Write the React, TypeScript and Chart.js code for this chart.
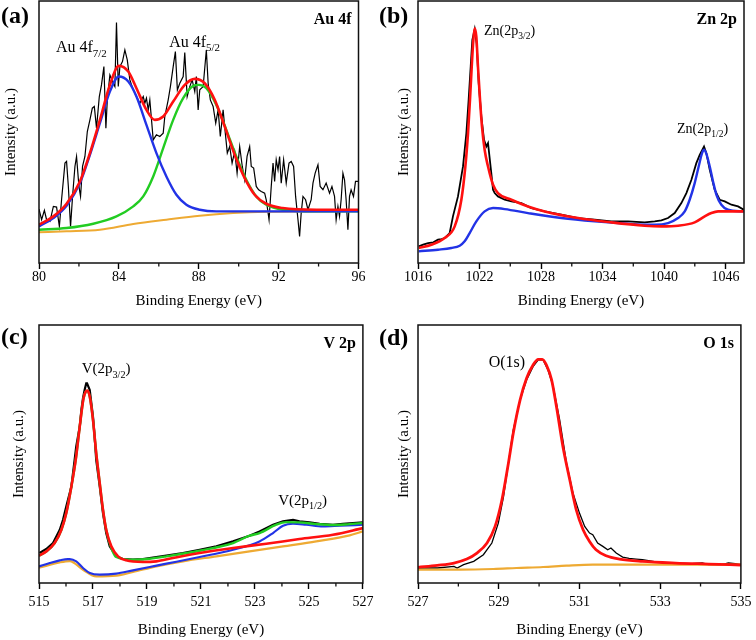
import { useEffect, useRef } from "react";
import { Chart, registerables } from "chart.js";
Chart.register(...registerables);

type P = [number, number];
const FAMILY = "'Liberation Serif', 'Times New Roman', serif";

// ---------- Panel (a) Au 4f ----------
const auTicks = [80, 84, 88, 92, 96];
const auMinor = [82, 86, 90, 94];
const auRaw: P[] = [
  [80.0, 162], [80.13, 130], [80.27, 158], [80.38, 130], [80.55, 125], [80.72, 170], [80.88, 168], [81.02, 110],
  [81.13, 190], [81.3, 300], [81.38, 305], [81.47, 230], [81.58, 110], [81.68, 200], [81.8, 290], [81.88, 320],
  [82.0, 230], [82.08, 200], [82.18, 290], [82.3, 320], [82.42, 395], [82.55, 430], [82.67, 465], [82.77, 470],
  [82.88, 405], [83.02, 500], [83.13, 535], [83.25, 590], [83.35, 405], [83.42, 490], [83.55, 565], [83.72, 540],
  [83.8, 530], [83.88, 722], [83.97, 530], [84.05, 590], [84.18, 605], [84.3, 640], [84.42, 610], [84.55, 550],
  [84.72, 520], [84.88, 500], [85.05, 480], [85.22, 500], [85.3, 480], [85.38, 495], [85.47, 460], [85.55, 490],
  [85.72, 370], [85.88, 385], [86.05, 380], [86.22, 390], [86.3, 440], [86.47, 490], [86.58, 530], [86.72, 590],
  [86.83, 635], [86.93, 520], [87.05, 540], [87.22, 560], [87.3, 632], [87.42, 500], [87.55, 530], [87.67, 550],
  [87.8, 515], [87.88, 560], [87.97, 460], [88.05, 520], [88.22, 530], [88.38, 640], [88.47, 540], [88.58, 490],
  [88.72, 470], [88.85, 420], [88.97, 460], [89.08, 380], [89.22, 460], [89.33, 390], [89.43, 330], [89.55, 350],
  [89.67, 300], [89.8, 335], [89.92, 270], [90.05, 350], [90.18, 290], [90.3, 250], [90.42, 320], [90.55, 350],
  [90.63, 290], [90.75, 285], [90.88, 230], [91.0, 220], [91.13, 215], [91.3, 210], [91.38, 190], [91.52, 130],
  [91.63, 230], [91.72, 300], [91.8, 245], [91.88, 310], [91.97, 280], [92.05, 320], [92.13, 240], [92.25, 310],
  [92.38, 240], [92.52, 300], [92.63, 305], [92.75, 290], [92.85, 200], [92.97, 130], [93.05, 80], [93.13, 150],
  [93.22, 200], [93.35, 190], [93.47, 160], [93.63, 190], [93.72, 240], [93.83, 270], [93.97, 295], [94.08, 230],
  [94.22, 220], [94.38, 240], [94.55, 210], [94.67, 230], [94.8, 200], [94.88, 130], [94.97, 170], [95.05, 140],
  [95.13, 190], [95.22, 270], [95.3, 250], [95.38, 190], [95.47, 100], [95.55, 200], [95.63, 220], [95.75, 200],
  [95.85, 245], [96.0, 245],
];
const auFit: P[] = [
  [80.0, 115], [80.72, 140], [81.38, 178], [82.05, 245], [82.55, 330], [83.05, 430], [83.55, 535], [84.0, 592],
  [84.47, 575], [84.88, 525], [85.38, 460], [85.8, 430], [86.22, 440], [86.72, 485], [87.3, 535], [87.8, 553],
  [88.3, 540], [88.8, 490], [89.3, 410], [89.8, 325], [90.3, 255], [90.8, 205], [91.38, 178], [92.2, 165],
  [93.9, 160], [96.0, 160],
];
const au72: P[] = [
  [80.0, 110], [80.72, 135], [81.38, 172], [82.05, 240], [82.55, 325], [83.05, 420], [83.55, 515], [84.0, 560],
  [84.47, 545], [84.88, 500], [85.38, 415], [85.88, 330], [86.38, 260], [86.88, 205], [87.38, 175], [88.05, 160],
  [88.88, 155], [91.38, 155], [96.0, 155],
];
const au52: P[] = [
  [80.0, 100], [81.38, 105], [82.72, 118], [83.88, 140], [84.72, 170], [85.22, 200], [85.72, 260], [86.22, 345],
  [86.72, 430], [87.22, 495], [87.72, 532], [88.0, 535], [88.38, 525], [88.88, 475], [89.38, 400], [89.88, 320],
  [90.38, 250], [90.88, 200], [91.38, 175], [92.22, 160], [93.88, 155], [96.0, 155],
];
const auBg: P[] = [
  [80.0, 92], [81.38, 95], [83.05, 100], [84.72, 117], [86.38, 130], [88.05, 142], [89.72, 150], [91.38, 154], [96.0, 156],
];

// ---------- Panel (b) Zn 2p ----------
const znTicks = [1016, 1022, 1028, 1034, 1040, 1046];
const znMinor = [1019, 1025, 1031, 1037, 1043];
const znRaw: P[] = [
  [1016.07, 50], [1016.5, 55], [1016.98, 60], [1017.5, 62], [1017.95, 70], [1018.3, 72], [1018.6, 75], [1019.09, 90],
  [1019.41, 140], [1019.9, 200], [1020.39, 290], [1020.72, 390], [1020.94, 490], [1021.14, 590], [1021.3, 670],
  [1021.53, 702], [1021.72, 660], [1021.92, 540], [1022.18, 440], [1022.44, 370], [1022.67, 350], [1022.83, 360],
  [1023.15, 270], [1023.32, 220], [1023.48, 210], [1023.8, 200], [1024.46, 190], [1025.11, 185], [1026.08, 180],
  [1027.06, 165], [1028.36, 155], [1029.98, 145], [1031.61, 135], [1033.24, 130], [1034.86, 125], [1036.49, 125],
  [1038.11, 122], [1039.09, 125], [1039.74, 128], [1040.39, 135], [1041.04, 150], [1041.69, 180], [1042.18, 210],
  [1042.67, 250], [1043.15, 300], [1043.48, 325], [1043.9, 350], [1044.13, 330], [1044.46, 280], [1044.94, 220],
  [1045.43, 190], [1045.92, 185], [1046.57, 175], [1047.22, 170], [1047.77, 160],
];
const zn32: P[] = [
  [1016.07, 45], [1017.3, 55], [1018.6, 75], [1019.58, 110], [1020.23, 190], [1020.62, 290], [1020.88, 390],
  [1021.07, 490], [1021.24, 590], [1021.4, 670], [1021.53, 705], [1021.69, 680], [1021.85, 590], [1022.05, 490],
  [1022.24, 410], [1022.5, 340], [1022.83, 290], [1023.32, 235], [1023.8, 210], [1025.11, 190], [1026.73, 170],
  [1028.36, 155], [1031.61, 135], [1034.86, 122], [1038.11, 112], [1039.74, 110], [1041.37, 112], [1042.99, 122],
  [1043.97, 140], [1044.62, 150], [1045.27, 155], [1046.24, 155], [1047.77, 155],
];
const zn12: P[] = [
  [1016.07, 35], [1017.95, 40], [1019.25, 45], [1020.07, 52], [1020.55, 65], [1021.04, 90], [1021.69, 125],
  [1022.5, 155], [1023.32, 165], [1024.46, 162], [1026.73, 150], [1029.98, 135], [1033.24, 125], [1036.49, 118],
  [1039.09, 115], [1040.39, 120], [1041.37, 135], [1042.02, 155], [1042.5, 190], [1042.99, 240], [1043.38, 290],
  [1043.71, 330], [1043.9, 340], [1044.13, 328], [1044.46, 290], [1044.78, 245], [1045.11, 205], [1045.59, 175],
  [1046.24, 160], [1047.77, 155],
];

// ---------- Panel (c) V 2p ----------
const vTicks = [515, 517, 519, 521, 523, 525, 527];
const vMinor = [516, 518, 520, 522, 524, 526];
const vRaw: P[] = [
  [515.02, 90], [515.27, 102], [515.52, 120], [515.77, 160], [515.89, 190], [516.01, 230], [516.2, 290],
  [516.32, 370], [516.38, 410], [516.51, 470], [516.57, 520], [516.63, 555], [516.69, 580], [516.75, 600],
  [516.78, 600], [516.88, 580], [517.0, 500], [517.06, 440], [517.12, 370], [517.25, 290], [517.37, 210],
  [517.49, 150], [517.62, 110], [517.86, 80], [518.11, 72], [518.48, 70], [518.85, 72], [519.22, 76],
  [519.72, 82], [520.33, 90], [520.95, 100], [521.57, 110], [522.19, 125], [522.8, 142], [523.17, 155],
  [523.67, 175], [524.04, 185], [524.41, 190], [524.65, 185], [525.02, 182], [525.4, 178], [525.89, 175],
  [526.26, 178], [526.63, 180], [527.0, 182],
];
const vFit: P[] = [
  [515.0, 82], [515.27, 95], [515.58, 120], [515.83, 160], [516.01, 210], [516.2, 290], [516.36, 370],
  [516.48, 450], [516.57, 510], [516.65, 555], [516.73, 575], [516.79, 578], [516.88, 560], [517.0, 490],
  [517.12, 390], [517.25, 300], [517.37, 220], [517.49, 160], [517.68, 110], [517.93, 80], [518.23, 68],
  [518.85, 63], [519.35, 65], [519.96, 75], [520.95, 90], [522.19, 105], [523.42, 118], [524.65, 132],
  [525.89, 145], [527.0, 165],
];
const vEnv: P[] = [
  [515.0, 82], [515.27, 95], [515.58, 120], [515.83, 160], [516.01, 210], [516.2, 290], [516.36, 370],
  [516.48, 450], [516.57, 510], [516.65, 555], [516.73, 575], [516.79, 578], [516.88, 560], [517.0, 490],
  [517.12, 390], [517.25, 300], [517.37, 220], [517.49, 160], [517.68, 105], [517.86, 78], [518.48, 70],
  [519.1, 73], [519.72, 80], [520.95, 97], [522.19, 120], [522.8, 142], [523.17, 150], [523.79, 175],
  [524.16, 183], [524.65, 182], [525.27, 177], [525.89, 174], [526.51, 177], [527.0, 180],
];
const v12: P[] = [
  [515.0, 50], [515.4, 60], [515.77, 68], [516.07, 72], [516.14, 72], [516.38, 65], [516.63, 45], [516.88, 30],
  [517.25, 25], [517.86, 28], [518.48, 38], [519.1, 48], [519.72, 58], [520.95, 78], [522.19, 100], [523.17, 125],
  [523.67, 150], [524.04, 172], [524.41, 178], [524.9, 175], [525.52, 170], [526.14, 172], [527.0, 175],
];
const vBg: P[] = [
  [515.0, 46], [515.77, 62], [516.14, 66], [516.63, 40], [517.12, 20], [517.86, 22], [518.48, 33], [519.35, 50],
  [520.33, 65], [521.57, 80], [522.8, 95], [524.04, 110], [525.27, 125], [526.51, 143], [527.0, 155],
];

// ---------- Panel (d) O 1s ----------
const oTicks = [527, 529, 531, 533, 535];
const oMinor = [528, 530, 532, 534];
const oRaw: P[] = [
  [527.0, 45], [527.48, 45], [527.89, 50], [527.97, 45], [528.13, 55], [528.38, 65], [528.62, 85], [528.83, 120],
  [528.99, 180], [529.12, 260], [529.24, 360], [529.36, 460], [529.53, 550], [529.69, 610], [529.85, 650],
  [529.98, 670], [530.1, 670], [530.22, 640], [530.35, 590], [530.51, 490], [530.68, 360], [530.84, 270],
  [531.0, 210], [531.13, 170], [531.25, 150], [531.33, 145], [531.45, 120], [531.58, 110], [531.7, 100],
  [531.78, 105], [531.91, 90], [532.07, 78], [532.23, 74], [532.4, 72], [532.56, 70], [532.97, 62], [533.38, 60],
  [533.79, 58], [534.04, 60], [534.2, 55], [534.53, 55], [534.69, 60], [534.86, 58], [535.0, 55],
];
const oFit: P[] = [
  [527.0, 47], [527.48, 53], [527.89, 60], [528.21, 72], [528.46, 90], [528.71, 120], [528.91, 170], [529.08, 250],
  [529.24, 360], [529.36, 450], [529.53, 550], [529.69, 615], [529.85, 655], [529.98, 672], [530.08, 672],
  [530.18, 655], [530.31, 610], [530.43, 530], [530.59, 410], [530.76, 310], [530.92, 220], [531.09, 160],
  [531.25, 125], [531.41, 100], [531.66, 82], [531.99, 72], [532.56, 65], [533.38, 60], [534.2, 57], [535.0, 54],
];
const oBg: P[] = [
  [527.0, 40], [528.05, 40], [528.87, 42], [529.44, 45], [530.1, 48], [530.68, 52], [531.33, 55], [532.15, 55],
  [533.38, 55], [535.0, 55],
];

const RED = "#ff1010";
const BLUE = "#2233e6";
const GREEN = "#22cc22";
const ORANGE = "#eeaa33";
const BLACK = "#000000";

type Series = { pts: P[]; color: string; width: number; smooth: boolean };
type Part = { t: string; sub?: boolean };
type Note = { x: number; y: number; parts: Part[]; size: number };
type PanelCfg = {
  left: number; top: number;
  area: { left: number; right: number; top: number; bottom: number };
  xmin: number; xmax: number; ymax: number;
  ticks: number[]; minor: number[];
  series: Series[];
  tag: string; element: string; tagY: number;
  notes: Note[];
  tickPad: number; xTitlePad: number; yTitlePad: number;
};

const W = 378, H = 320;

const panels: PanelCfg[] = [
  {
    left: 0, top: 0, area: { left: 39, right: 358.5, top: 1, bottom: 263 },
    xmin: 80, xmax: 96, ymax: 787, ticks: auTicks, minor: auMinor,
    series: [
      { pts: auFit, color: RED, width: 2.6, smooth: true },
      { pts: au72, color: BLUE, width: 2.4, smooth: true },
      { pts: au52, color: GREEN, width: 2.4, smooth: true },
      { pts: auBg, color: ORANGE, width: 2, smooth: true },
      { pts: auRaw, color: BLACK, width: 1.2, smooth: false },
    ],
    tag: "(a)", element: "Au 4f", tagY: 17,
    notes: [
      { x: 80.85, y: 634, parts: [{ t: "Au 4f" }, { t: "7/2", sub: true }], size: 16 },
      { x: 86.52, y: 650, parts: [{ t: "Au 4f" }, { t: "5/2", sub: true }], size: 16 },
    ],
    tickPad: 0, xTitlePad: 10, yTitlePad: 2,
  },
  {
    left: 378, top: 0, area: { left: 40, right: 366, top: 1, bottom: 263 },
    xmin: 1016, xmax: 1047.8, ymax: 787, ticks: znTicks, minor: znMinor,
    series: [
      { pts: zn32, color: RED, width: 2.6, smooth: true },
      { pts: zn12, color: BLUE, width: 2.4, smooth: true },
      { pts: znRaw, color: BLACK, width: 1.8, smooth: false },
    ],
    tag: "(b)", element: "Zn 2p", tagY: 17,
    notes: [
      { x: 1022.44, y: 685, parts: [{ t: "Zn(2p" }, { t: "3/2", sub: true }, { t: ")" }], size: 14 },
      { x: 1041.27, y: 390, parts: [{ t: "Zn(2p" }, { t: "1/2", sub: true }, { t: ")" }], size: 14 },
    ],
    tickPad: 0, xTitlePad: 10, yTitlePad: 17.5,
  },
  {
    left: 0, top: 320, area: { left: 39, right: 364, top: 5, bottom: 263 },
    xmin: 515, xmax: 527, ymax: 775, ticks: vTicks, minor: vMinor,
    series: [
      { pts: vFit, color: RED, width: 2.6, smooth: true },
      { pts: vEnv, color: GREEN, width: 2.4, smooth: true },
      { pts: v12, color: BLUE, width: 2.2, smooth: true },
      { pts: vBg, color: ORANGE, width: 2.2, smooth: true },
      { pts: vRaw, color: BLACK, width: 2.2, smooth: false },
    ],
    tag: "(c)", element: "V 2p", tagY: 18,
    notes: [
      { x: 516.58, y: 630, parts: [{ t: "V(2p" }, { t: "3/2", sub: true }, { t: ")" }], size: 15 },
      { x: 523.86, y: 235, parts: [{ t: "V(2p" }, { t: "1/2", sub: true }, { t: ")" }], size: 15 },
    ],
    tickPad: 4.6, xTitlePad: 1, yTitlePad: 10,
  },
  {
    left: 378, top: 320, area: { left: 40, right: 366, top: 5, bottom: 263 },
    xmin: 527, xmax: 535, ymax: 775, ticks: oTicks, minor: oMinor,
    series: [
      { pts: oFit, color: RED, width: 2.8, smooth: true },
      { pts: oBg, color: ORANGE, width: 2.2, smooth: true },
      { pts: oRaw, color: BLACK, width: 1.3, smooth: false },
    ],
    tag: "(d)", element: "O 1s", tagY: 19,
    notes: [{ x: 528.75, y: 650, parts: [{ t: "O(1s)" }], size: 16 }],
    tickPad: 4.6, xTitlePad: 1, yTitlePad: 17.5,
  },
];

function Panel({ cfg }: { cfg: PanelCfg }) {
  const ref = useRef<HTMLCanvasElement>(null);
  useEffect(() => {
    const a = cfg.area;
    const deco = {
      id: "deco",
      afterDraw(chart: any) {
        const { ctx, chartArea: ca, scales } = chart;
        const xs = scales.x, ys = scales.y;
        ctx.save();
        ctx.strokeStyle = "#111";
        ctx.lineWidth = 1.5;
        ctx.strokeRect(ca.left, ca.top, ca.right - ca.left, ca.bottom - ca.top);
        ctx.beginPath();
        for (const v of cfg.minor) {
          const px = xs.getPixelForValue(v);
          ctx.moveTo(px, ca.bottom);
          ctx.lineTo(px, ca.bottom + 3.5);
        }
        ctx.lineWidth = 1.3;
        ctx.stroke();
        ctx.fillStyle = "#000";
        ctx.textBaseline = "middle";
        ctx.textAlign = "left";
        ctx.font = `bold 24px ${FAMILY}`;
        ctx.fillText(cfg.tag, 1, cfg.tagY);
        ctx.textAlign = "right";
        ctx.font = `bold 16px ${FAMILY}`;
        ctx.fillText(cfg.element, ca.right - 7, ca.top + 19);
        ctx.textAlign = "left";
        ctx.textBaseline = "alphabetic";
        for (const n of cfg.notes) {
          let cx = xs.getPixelForValue(n.x);
          const by = ys.getPixelForValue(n.y);
          for (const p of n.parts) {
            const fs = p.sub ? n.size * 0.68 : n.size;
            ctx.font = `${fs}px ${FAMILY}`;
            ctx.fillText(p.t, cx, p.sub ? by + n.size * 0.3 : by);
            cx += ctx.measureText(p.t).width;
          }
        }
        ctx.restore();
      },
    };
    const chart = new Chart(ref.current as HTMLCanvasElement, {
      type: "line",
      data: {
        datasets: cfg.series.map((s) => ({
          data: s.pts.map(([x, y]) => ({ x, y })),
          borderColor: s.color,
          borderWidth: s.width,
          pointRadius: 0,
          fill: false,
          tension: s.smooth ? 0.4 : 0,
          cubicInterpolationMode: s.smooth ? "monotone" : "default",
        })) as any,
      },
      options: {
        responsive: false,
        animation: false,
        events: [],
        layout: { padding: { left: 0, top: a.top, right: W - a.right, bottom: 0 } },
        plugins: { legend: { display: false }, tooltip: { enabled: false } },
        scales: {
          x: {
            type: "linear",
            min: cfg.xmin,
            max: cfg.xmax,
            afterBuildTicks: (s: any) => {
              s.ticks = cfg.ticks.map((v) => ({ value: v }));
            },
            afterFit: (s: any) => {
              s.height = H - a.bottom;
            },
            ticks: {
              color: "#000",
              font: { family: FAMILY, size: 14 },
              padding: cfg.tickPad,
              autoSkip: false,
              maxRotation: 0,
              callback: (v: any) => String(v),
            },
            grid: { drawOnChartArea: false, drawTicks: true, tickLength: 6, tickWidth: 1.4, tickColor: "#000" },
            border: { display: false },
            title: {
              display: true,
              text: "Binding Energy (eV)",
              color: "#000",
              font: { family: FAMILY, size: 15 },
              padding: { top: 0, bottom: cfg.xTitlePad },
            },
          },
          y: {
            type: "linear",
            min: 0,
            max: cfg.ymax,
            ticks: { display: false },
            grid: { display: false },
            border: { display: false },
            afterFit: (s: any) => {
              s.width = a.left;
            },
            title: {
              display: true,
              text: "Intensity (a.u.)",
              color: "#000",
              font: { family: FAMILY, size: 15 },
              padding: { top: cfg.yTitlePad, bottom: 0 },
            },
          },
        },
      } as any,
      plugins: [deco],
    });
    return () => chart.destroy();
  }, [cfg]);
  return (
    <canvas
      ref={ref}
      width={W}
      height={H}
      style={{ position: "absolute", left: cfg.left, top: cfg.top, width: W, height: H }}
    />
  );
}

export default function App() {
  return (
    <div style={{ position: "absolute", left: 0, top: 0, width: 756, height: 640, background: "#fff" }}>
      {panels.map((p, i) => (
        <Panel key={i} cfg={p} />
      ))}
    </div>
  );
}
